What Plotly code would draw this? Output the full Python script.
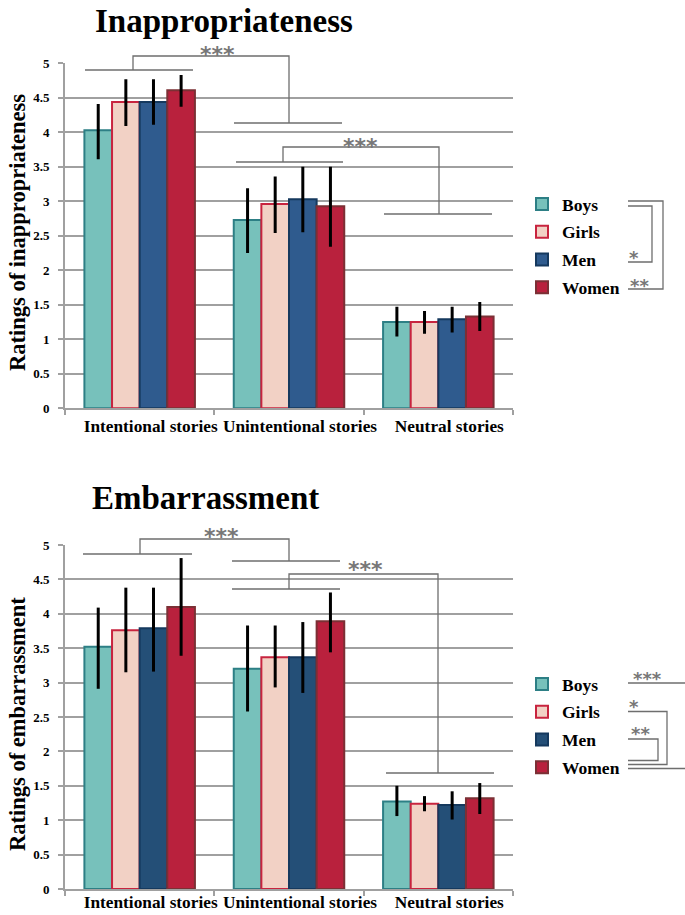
import plotly.graph_objects as go

# ---------------- data ----------------
categories = ["Intentional stories", "Unintentional stories", "Neutral stories"]
groups = ["Boys", "Girls", "Men", "Women"]

# Inappropriateness: means, upper and lower ends of error bars
inap_boys = [4.03, 2.73, 1.25]
inap_girls = [4.44, 2.96, 1.25]
inap_men = [4.44, 3.03, 1.29]
inap_women = [4.61, 2.93, 1.33]
inap_boys_hi = [4.41, 3.19, 1.47]
inap_girls_hi = [4.77, 3.36, 1.41]
inap_men_hi = [4.77, 3.50, 1.47]
inap_women_hi = [4.83, 3.50, 1.54]
inap_boys_lo = [3.61, 2.25, 1.04]
inap_girls_lo = [4.09, 2.54, 1.08]
inap_men_lo = [4.11, 2.55, 1.10]
inap_women_lo = [4.37, 2.34, 1.12]

# Embarrassment
emb_boys = [3.52, 3.20, 1.27]
emb_girls = [3.76, 3.37, 1.24]
emb_men = [3.79, 3.37, 1.22]
emb_women = [4.10, 3.89, 1.32]
emb_boys_hi = [4.09, 3.83, 1.50]
emb_girls_hi = [4.38, 3.83, 1.35]
emb_men_hi = [4.38, 3.88, 1.42]
emb_women_hi = [4.81, 4.31, 1.54]
emb_boys_lo = [2.91, 2.58, 1.06]
emb_girls_lo = [3.15, 2.93, 1.13]
emb_men_lo = [3.16, 2.85, 1.01]
emb_women_lo = [3.39, 3.44, 1.09]

y_ticks = [0, 0.5, 1, 1.5, 2, 2.5, 3, 3.5, 4, 4.5, 5]

# ---------------- styles ----------------
W, H = 685, 915
SERIF = "Liberation Serif"
fills_top = ["#77C1BB", "#F2D1C5", "#2F5B8E", "#B9213D"]
fills_bot = ["#77C1BB", "#F2D1C5", "#244F77", "#B9213D"]
lines_c = ["#2D7F85", "#C8243F", "#15395E", "#7B3035"]
GRID = "#A0A0A0"
BR = "#6E6E6E"
STAR = "#777777"


def X(px):
    return px / W


def Y(py):
    return 1 - py / H


fig = go.Figure()

top_sets = [
    (inap_boys, inap_boys_hi, inap_boys_lo),
    (inap_girls, inap_girls_hi, inap_girls_lo),
    (inap_men, inap_men_hi, inap_men_lo),
    (inap_women, inap_women_hi, inap_women_lo),
]
bot_sets = [
    (emb_boys, emb_boys_hi, emb_boys_lo),
    (emb_girls, emb_girls_hi, emb_girls_lo),
    (emb_men, emb_men_hi, emb_men_lo),
    (emb_women, emb_women_hi, emb_women_lo),
]

for i, (name, (m, hi, lo)) in enumerate(zip(groups, top_sets)):
    fig.add_trace(go.Bar(
        x=categories, y=m, name=name, xaxis="x", yaxis="y",
        marker=dict(color=fills_top[i], line=dict(color=lines_c[i], width=2)),
        error_y=dict(type="data", symmetric=False,
                     array=[h - v for h, v in zip(hi, m)],
                     arrayminus=[v - l for v, l in zip(m, lo)],
                     color="black", thickness=3, width=0),
        legend="legend", legendgroup="t" + name, showlegend=True,
    ))

for i, (name, (m, hi, lo)) in enumerate(zip(groups, bot_sets)):
    fig.add_trace(go.Bar(
        x=categories, y=m, name=name, xaxis="x2", yaxis="y2",
        marker=dict(color=fills_bot[i], line=dict(color=lines_c[i], width=2)),
        error_y=dict(type="data", symmetric=False,
                     array=[h - v for h, v in zip(hi, m)],
                     arrayminus=[v - l for v, l in zip(m, lo)],
                     color="black", thickness=3, width=0),
        legend="legend2", legendgroup="b" + name, showlegend=True,
    ))

xdom = [X(65), X(513)]
common_x = dict(
    domain=xdom, showline=True, linecolor=GRID, linewidth=2, automargin=False,
    ticks="outside", tickson="boundaries", ticklen=5, tickcolor=GRID, tickwidth=2,
    tickangle=0, ticklabelshift=11,
    tickfont=dict(family=SERIF, size=17.3, color="black", weight="bold"),
    showgrid=False, fixedrange=True,
)
common_y = dict(
    range=[0, 5], tickvals=y_ticks, ticktext=[f"{v:g}" for v in y_ticks],
    showline=True, linecolor=GRID, linewidth=2, ticks="outside", ticklen=5,
    tickcolor=GRID, tickwidth=2, showgrid=True, gridcolor=GRID, gridwidth=2,
    zeroline=False, ticklabelstandoff=6, automargin=False, fixedrange=True,
    tickfont=dict(family=SERIF, size=13, color="black", weight="bold"),
)

legend_common = dict(
    font=dict(family=SERIF, size=17.5, color="black", weight="bold"),
    xanchor="left", yanchor="top", tracegroupgap=2, bgcolor="rgba(0,0,0,0)",
    itemclick=False, itemdoubleclick=False,
)

fig.update_layout(
    width=W, height=H, margin=dict(l=0, r=0, t=0, b=0, autoexpand=False),
    paper_bgcolor="white", plot_bgcolor="white",
    barmode="group", bargap=0.26, bargroupgap=0,
    xaxis=dict(anchor="y", ticklabelstandoff=1, **common_x),
    yaxis=dict(anchor="x", domain=[Y(408.3), Y(63.3)], **common_y),
    xaxis2=dict(anchor="y2", ticklabelstandoff=-4, **common_x),
    yaxis2=dict(anchor="x2", domain=[Y(889), Y(545)], **common_y),
    legend=dict(x=X(522), y=Y(186), **legend_common),
    legend2=dict(x=X(522), y=Y(666), **legend_common),
)

ann = []


def text(px, py, s, size, color="black", angle=0, fam=SERIF, ya="middle"):
    ann.append(dict(x=X(px), y=Y(py), xref="paper", yref="paper", text=s,
                    showarrow=False, textangle=angle, xanchor="center", yanchor=ya,
                    font=dict(family=fam, size=size, color=color, weight="bold")))


# titles
text(224, 21, "Inappropriateness", 33)
text(205, 498, "Embarrassment", 33)
# y-axis titles
text(17, 233, "Ratings of inappropriateness", 22.5, angle=-90)
text(17, 724, "Ratings of embarrassment", 22.5, angle=-90)

# significance stars
SANS = "DejaVu Sans"
text(217, 40, "***", 22, STAR, fam=SANS, ya="top")
text(361, 132, "***", 22, STAR, fam=SANS, ya="top")
text(221, 522, "***", 22, STAR, fam=SANS, ya="top")
text(366, 555, "***", 22, STAR, fam=SANS, ya="top")
text(634, 245, "*", 18, STAR, fam=SANS, ya="top")
text(639, 273, "**", 18, STAR, fam=SANS, ya="top")
text(647, 666, "***", 18, STAR, fam=SANS, ya="top")
text(634, 694, "*", 18, STAR, fam=SANS, ya="top")
text(640, 721, "**", 18, STAR, fam=SANS, ya="top")

shapes = []


def path(pts):
    d = "M" + " L".join(f"{X(a):.5f},{Y(b):.5f}" for a, b in pts)
    shapes.append(dict(type="path", path=d, xref="paper", yref="paper",
                       line=dict(color=BR, width=1.3)))


# ---- top chart brackets ----
path([(85, 70), (193, 70)])
path([(133, 70), (133, 56), (289, 56), (289, 123)])
path([(234, 123), (342, 123)])
path([(236, 162), (343, 162)])
path([(283, 162), (283, 147), (439, 147), (439, 214)])
path([(384, 214), (492, 214)])
# top legend brackets
path([(628, 201), (663, 201), (663, 289), (628, 289)])
path([(628, 206), (652, 206), (652, 262), (628, 262)])

# ---- bottom chart brackets ----
path([(83, 554), (192, 554)])
path([(140, 554), (140, 539), (289, 539), (289, 561)])
path([(232, 561), (340, 561)])
path([(232, 589), (340, 589)])
path([(289, 589), (289, 574), (438, 574), (438, 773)])
path([(386, 773), (494, 773)])
# bottom legend brackets
path([(628, 683), (685, 683)])
path([(628, 711.5), (667, 711.5), (667, 764.5), (628, 764.5)])
path([(628, 739), (658, 739), (658, 760.5), (628, 760.5)])
path([(628, 768.5), (685, 768.5)])

fig.update_layout(annotations=ann, shapes=shapes)

fig.write_html(
    "out.html",
    config={"displayModeBar": False},
    post_script="document.body.style.margin='0';document.body.style.padding='0';"
                "document.documentElement.style.overflow='hidden';",
)
